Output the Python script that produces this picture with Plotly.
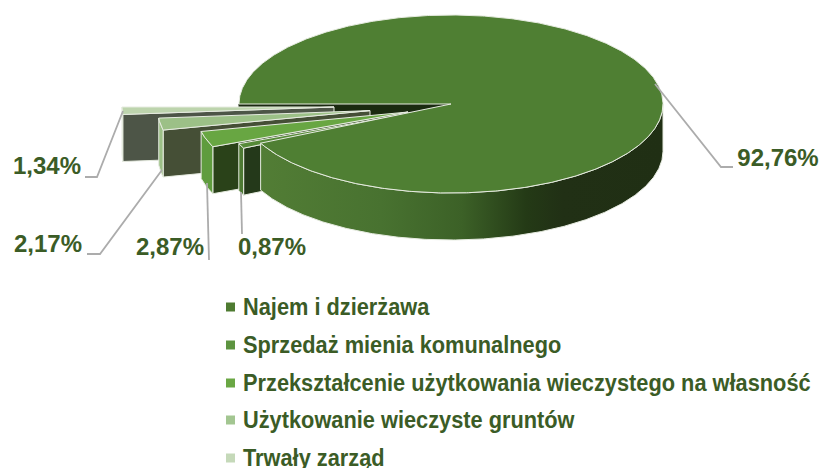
import numpy as np
import plotly.graph_objects as go

categories = ["Najem i dzierżawa", "Sprzedaż mienia komunalnego",
              "Przekształcenie użytkowania wieczystego na własność",
              "Użytkowanie wieczyste gruntów", "Trwały zarząd"]
values = [92.76, 0.87, 2.87, 2.17, 1.34]
value_labels = ["92,76%", "0,87%", "2,87%", "2,17%", "1,34%"]

# styles
top_colors = ["#4f7f33", "#568a38", "#68a642", "#9cc087", "#bdd4ad"]
outer_colors = ["#4f7f33", "#4d7a33", "#5f9c3e", "#9cc087", "#bdd4ad"]
cut_colors = ["#1f3013", "#24391a", "#2a4219", "#454f36", "#4d5547"]
legend_colors = ["#4e7b31", "#5d9440", "#6aa744", "#a3c691", "#c5d9b9"]
text_color = "#3b5c26"
edge = "#e6ebe0"
leader = "#acacac"

# layout (pixels)
CX, CY, RX, RY, DEPTH = 451, 104, 212, 89, 47
START = 180.0
offsets = [(0, 0), (-17, 5), (-43, 8), (-81, 6.6), (-117, 3)]
label_pos = [(778, 160), (272, 249), (170, 249), (48, 246), (47, 168)]
leaders = [[(655, 84), (721, 167), (733, 167)],
           [(241, 192), (242, 234)],
           [(207, 183), (209, 260)],
           [(162, 170), (100, 254), (87, 254)],
           [(123, 111), (97, 177), (85, 177)]]
legend_rows = [307, 345, 383, 420, 458]
legend_text_rows = [309, 347, 385, 422, 460]

# angles from the values
total = sum(values)
spans = [v / total * 360 for v in values]
starts = START + np.concatenate([[0], np.cumsum(spans)[:-1]])


def arc(t0, t1, ox=0, oy=0, dz=0):
    t = np.radians(np.linspace(t0, t1, max(int(abs(t1 - t0) * 2), 2) + 1))
    return CX + ox + RX * np.cos(t), CY + oy + dz + RY * np.sin(t)


def poly(fig, x, y, color, line=edge, width=1, **kw):
    fig.add_trace(go.Scatter(x=list(x) + [x[0]], y=list(y) + [y[0]], mode="lines",
                             fill="toself", fillcolor=color,
                             line=dict(color=line, width=width),
                             hoverinfo="skip", showlegend=False, **kw))


fig = go.Figure()

# inner wall of the notch in the big slice
xa, ya = arc(START, START + 0.01)
poly(fig, [CX, xa[0], xa[0], CX], [CY, ya[0], ya[0] + DEPTH, CY + DEPTH], "#1a2a10", line="#1a2a10")

# exploded slices, back to front
for i in [4, 3, 2, 1]:
    t0, t1 = starts[i], starts[i] + spans[i]
    ox, oy = offsets[i]
    ax, ay = CX + ox, CY + oy
    x, y = arc(t0, t1, ox, oy)
    xb, yb = arc(t0, t1, ox, oy, DEPTH)
    # cut wall facing the viewer
    poly(fig, [ax, x[0], x[0], ax], [ay, y[0], y[0] + DEPTH, ay + DEPTH], cut_colors[i])
    # rim
    poly(fig, list(x) + list(xb[::-1]), list(y) + list(yb[::-1]), outer_colors[i])
    # top
    poly(fig, [ax] + list(x), [ay] + list(y), top_colors[i])

# big slice: rim with gradient, then top
t0, t1 = starts[0], starts[0] + spans[0]
x, y = arc(360, t1)
xb, yb = arc(360, t1, 0, 0, DEPTH)
fig.add_trace(go.Scatter(
    x=list(x) + list(xb[::-1]) + [x[0]], y=list(y) + list(yb[::-1]) + [y[0]],
    mode="lines", line=dict(color=edge, width=1), fill="toself",
    fillgradient=dict(type="horizontal", colorscale=[
        [0, "#527d35"], [0.3, "#487230"], [0.5, "#3c6127"], [0.66, "#243a16"],
        [0.75, "#213015"], [1, "#202f14"]]),
    hoverinfo="skip", showlegend=False))
x, y = arc(t0, t1)
poly(fig, [CX] + list(x), [CY] + list(y), top_colors[0])

# leader lines
for pts in leaders:
    fig.add_trace(go.Scatter(x=[p[0] for p in pts], y=[p[1] for p in pts], mode="lines",
                             line=dict(color=leader, width=1.8), hoverinfo="skip", showlegend=False))

# value labels
fig.add_trace(go.Scatter(x=[p[0] for p in label_pos], y=[p[1] for p in label_pos],
                         mode="text", text=value_labels, textposition="middle center",
                         textfont=dict(family="Liberation Sans", size=24, color=text_color,
                                       weight="bold"),
                         hoverinfo="skip", showlegend=False))

# legend rows
fig.add_trace(go.Scatter(x=[230.5] * 5, y=legend_rows, mode="markers",
                         marker=dict(symbol="square", size=9, color=legend_colors, line=dict(width=0)),
                         hoverinfo="skip", showlegend=False))
fig.add_trace(go.Scatter(x=[243] * 5, y=legend_text_rows, mode="text", text=categories,
                         textposition="middle right", cliponaxis=False,
                         textfont=dict(family="Liberation Sans", size=24, color=text_color,
                                       weight="bold"),
                         hoverinfo="skip", showlegend=False))

fig.update_layout(width=821, height=468, margin=dict(l=0, r=0, t=0, b=0),
                  paper_bgcolor="white", plot_bgcolor="white", showlegend=False,
                  xaxis=dict(range=[0, 821], visible=False, fixedrange=True),
                  yaxis=dict(range=[468, 0], visible=False, fixedrange=True))

# The reference's legend uses a condensed face: narrow the real text horizontally.
condense = """
document.body.style.margin='0';document.body.style.overflow='hidden';
var ts=[].slice.call(document.querySelectorAll('.textpoint text')).filter(function(t){return t.textContent.length>6;});
var w=Math.max.apply(null,ts.map(function(t){return t.getComputedTextLength();}));
ts.forEach(function(t){t.style.transformBox='fill-box';t.style.transformOrigin='left center';t.style.transform='scaleX('+(568/w)+')';});
"""
fig.write_html("out.html", post_script=condense, config=dict(displayModeBar=False))
